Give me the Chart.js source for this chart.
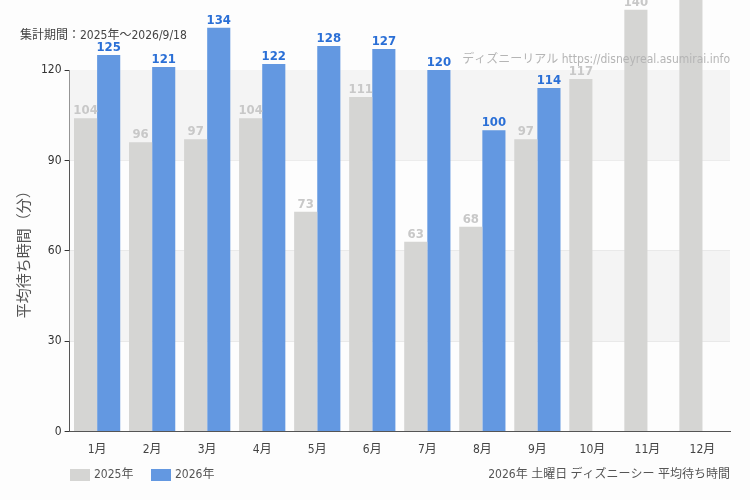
<!DOCTYPE html><html><head><meta charset="utf-8">
<script src="https://cdn.jsdelivr.net/npm/chart.js@4"></script>
<style>body{margin:0;background:#fdfdfd}#w{width:750px;height:500px}</style></head><body><div id="w"><canvas id="c"></canvas></div>
<script>
const categories=['1月','2月','3月','4月','5月','6月','7月','8月','9月','10月','11月','12月'];
const values2025=[104,96,97,104,73,111,63,68,97,117,140,155];
const values2026=[125,121,134,122,128,127,120,100,114,null,null,null];
const yTicks=[0,30,60,90,120];
const FONT="'DejaVu Sans Condensed','Noto Sans CJK JP',sans-serif";
const C25='#d5d5d3',C26='#6398e1';
const deco={id:'deco',
beforeDatasetsDraw(ch){const {ctx,chartArea:a,scales:{y}}=ch;ctx.save();ctx.fillStyle='#f4f4f4';
[[30,60],[90,120]].forEach(([l,h])=>{ctx.fillRect(a.left,y.getPixelForValue(h),a.right-a.left,y.getPixelForValue(l)-y.getPixelForValue(h));});ctx.restore();},
afterDatasetsDraw(ch){const {ctx}=ch;ctx.save();ctx.textAlign='center';ctx.textBaseline='bottom';
ch.data.datasets.forEach((ds,i)=>{const m=ch.getDatasetMeta(i);m.data.forEach((b,j)=>{const v=ds.data[j];if(v==null)return;
ctx.font='bold 13px '+FONT;ctx.fillStyle=i?'#2a6fd6':'#c8c8c8';ctx.fillText(v,b.x,b.y-1);});});
ctx.font='12px '+FONT;ctx.textAlign='left';ctx.textBaseline='middle';ctx.fillStyle='#444';
ctx.fillText('集計期間：2025年～2026/9/18',20,36);
ctx.textAlign='right';ctx.fillStyle='#b5b5b5';ctx.fillText('ディズニーリアル https://disneyreal.asumirai.info',730,60);
ctx.fillStyle='#555';ctx.fillText('2026年 土曜日 ディズニーシー 平均待ち時間',730,475);
ctx.textAlign='left';ctx.fillStyle=C25;ctx.fillRect(70,469,20,12);ctx.fillStyle='#555';ctx.fillText('2025年',94,475);
ctx.fillStyle=C26;ctx.fillRect(151,469,20,12);ctx.fillStyle='#555';ctx.fillText('2026年',175,475);
ctx.restore();}};
new Chart(document.getElementById('c'),{type:'bar',
data:{labels:categories,datasets:[
{label:'2025年',data:values2025,backgroundColor:C25,categoryPercentage:0.84,barPercentage:1,clip:false},
{label:'2026年',data:values2026,backgroundColor:C26,categoryPercentage:0.84,barPercentage:1,clip:false}]},
options:{responsive:true,maintainAspectRatio:false,animation:false,
layout:{padding:{top:70,right:20,bottom:40,left:12}},
plugins:{legend:{display:false},tooltip:{enabled:false}},
scales:{
x:{grid:{display:false,drawTicks:true},border:{color:'#555'},ticks:{color:'#444',font:{family:FONT,size:12}}},
y:{min:0,max:120,afterBuildTicks(s){s.ticks=yTicks.map(v=>({value:v}));},
grid:{color:'#e6e6e6',tickColor:'#333',tickLength:5},border:{color:'#555'},
ticks:{color:'#333',font:{family:FONT,size:12}},
title:{display:true,text:'平均待ち時間（分）',color:'#555',font:{family:FONT,size:15}}}}},
plugins:[deco]});
</script></body></html>
